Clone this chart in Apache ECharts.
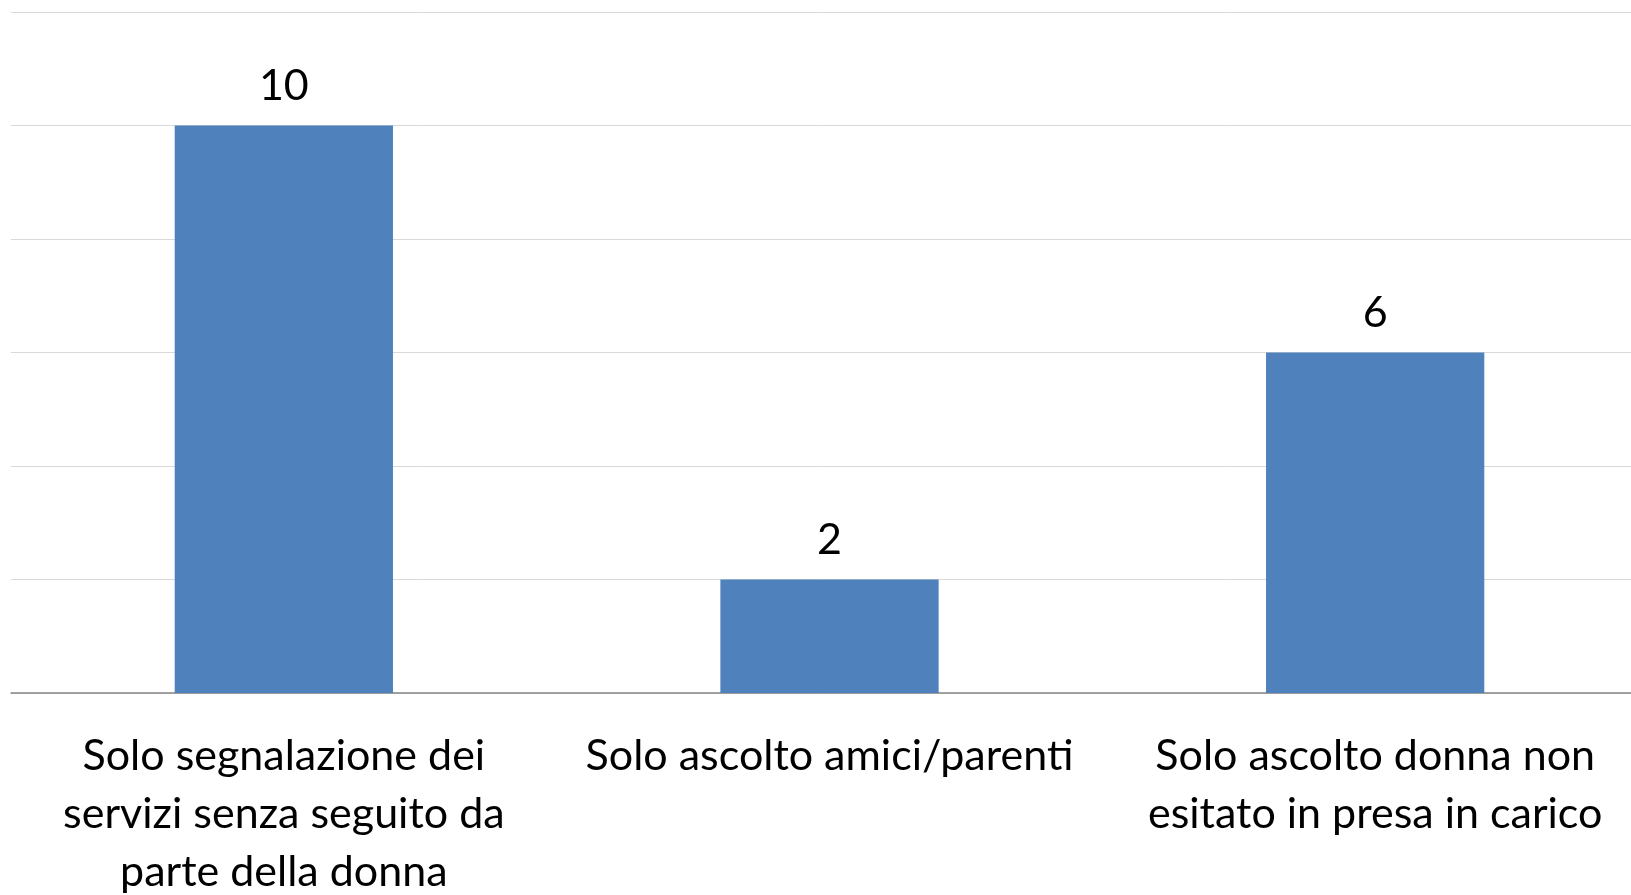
<!DOCTYPE html>
<html>
<head>
<meta charset="utf-8">
<script src="https://cdn.jsdelivr.net/npm/echarts@6/dist/echarts.min.js"></script>
<style>
  html, body { margin: 0; padding: 0; background: #fff; }
  #chart { width: 1631px; height: 895px; }
</style>
</head>
<body>
<div id="chart"></div>
<script>
const categories = [
  'Solo segnalazione dei\nservizi senza seguito da\nparte della donna',
  'Solo ascolto amici/parenti',
  'Solo ascolto donna non\nesitato in presa in carico'
]
const values = [10, 2, 6]

const chart = echarts.init(document.getElementById('chart'))
chart.setOption({
  animation: false,
  grid: {
    left: 11,
    right: -17,
    top: 12,
    bottom: 202,
    containLabel: false,
    outerBoundsMode: 'none'
  },
  xAxis: {
    type: 'category',
    data: categories,
    axisLine: { lineStyle: { color: '#878787', width: 1.5 } },
    axisTick: { show: false },
    axisLabel: {
      interval: 0,
      margin: 34,
      color: '#000',
      fontFamily: 'Lato',
      fontSize: 43,
      lineHeight: 58
    }
  },
  yAxis: {
    type: 'value',
    min: 0,
    max: 12,
    interval: 2,
    axisLabel: { show: false },
    axisLine: { show: false },
    axisTick: { show: false },
    splitLine: { lineStyle: { color: '#D9D9D9', width: 1 } }
  },
  series: [{
    type: 'bar',
    data: values,
    barWidth: '40%',
    itemStyle: { color: '#4F81BD' },
    label: {
      show: true,
      position: 'top',
      distance: 13,
      color: '#000',
      fontFamily: 'Lato',
      fontSize: 43,
      lineHeight: 53
    }
  }]
})
</script>
</body>
</html>
